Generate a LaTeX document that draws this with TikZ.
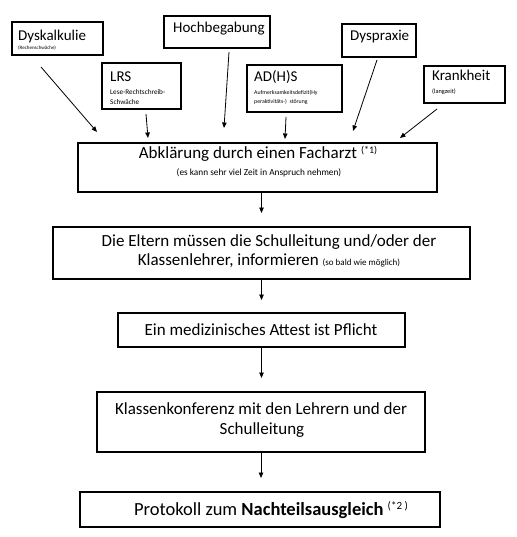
\documentclass[tikz,border=0pt]{standalone}
\usepackage{fontspec}
\setmainfont{Carlito}
\usetikzlibrary{arrows.meta,calc}
\newcommand{\myfs}[1]{\fontsize{#1}{#1}\selectfont}
\begin{document}
\begin{tikzpicture}[x=1pt,y=-1pt,
  box/.style={draw,line width=1.1pt,inner sep=0pt,outer sep=0pt,anchor=north west},
  lbl/.style={inner sep=0pt,anchor=base west},
  clbl/.style={inner sep=0pt,anchor=base},
  arr/.style={line width=0.8pt,-{Triangle[length=5.5pt,width=4.5pt]}}]
\useasboundingbox (0,0) rectangle (516,537);
\fill[white] (0,0) rectangle (516,537);

% top boxes
\node[box,minimum width=91pt,minimum height=33pt] (dys) at (12,22) {};
\node[box,minimum width=79pt,minimum height=46pt] (lrs) at (102,63) {};
\node[box,minimum width=106pt,minimum height=32pt] (hoch) at (164,16) {};
\node[box,minimum width=95pt,minimum height=47pt] (adhs) at (247,65) {};
\node[box,minimum width=74pt,minimum height=33pt] (dysp) at (342,24) {};
\node[box,minimum width=81pt,minimum height=37pt] (krank) at (424,66) {};

\node[lbl] (tdys) at (18,41) {\myfs{15}Dyskalkulie};
\node[lbl] (tdys2) at (18,50) {\myfs{5}(Rechenschwäche)};
\node[lbl] (tlrs) at (110,82) {\myfs{15}LRS};
\node[lbl] (tlrs2) at (110,95) {\myfs{7.2}Lese-Rechtschreib-};
\node[lbl] (tlrs3) at (110,105) {\myfs{7.2}Schwäche};
\node[lbl] (thoch) at (173,33) {\myfs{15}Hochbegabung};
\node[lbl] (tadhs) at (254,82) {\myfs{15}AD(H)S};
\node[lbl] (tadhs2) at (254,95) {\myfs{5.8}Aufmerksamkeitsdefizit(Hy};
\node[lbl] (tadhs3) at (254,104) {\myfs{5.8}peraktivitäts-)\ \ störung};
\node[lbl] (tdysp) at (350,41) {\myfs{15}Dyspraxie};
\node[lbl] (tkrank) at (432,81) {\myfs{15}Krankheit};
\node[lbl] (tkrank2) at (432,94) {\myfs{6.3}(langzeit)};

% main boxes
\node[box,minimum width=359pt,minimum height=49pt] (abk) at (78,143) {};
\node[box,minimum width=417pt,minimum height=52pt] (elt) at (53,227) {};
\node[box,minimum width=287pt,minimum height=34pt] (att) at (118,313) {};
\node[box,minimum width=328pt,minimum height=60pt] (kla) at (97,392) {};
\node[box,minimum width=360pt,minimum height=35pt] (pro) at (80,492) {};

\node[clbl] (tabk) at (258,159) {\myfs{17}Abklärung durch einen Facharzt \raisebox{5pt}{\myfs{10}(*1)}};
\node[clbl] (tabk2) at (259,176) {\myfs{9.3}(es kann sehr viel Zeit in Anspruch nehmen)};
\node[clbl] (telt) at (269,246) {\myfs{17}Die Eltern müssen die Schulleitung und/oder der};
\node[clbl] (telt2) at (269,265) {\myfs{17}Klassenlehrer, informieren {\myfs{9}(so bald wie möglich)}};
\node[clbl] (tatt) at (261,335) {\myfs{17}Ein medizinisches Attest ist Pflicht};
\node[clbl] (tkla) at (261,414) {\myfs{17}Klassenkonferenz mit den Lehrern und der};
\node[clbl] (tkla2) at (262,434) {\myfs{17}Schulleitung};
\node[clbl] (tpro) at (271,515) {\myfs{18.5}Protokoll zum \textbf{Nachteilsausgleich} \raisebox{5.5pt}{\myfs{11}(*2 )}};

% top arrows (free tips)
\coordinate (e1) at (97,132);
\coordinate (e2) at (148,138);
\coordinate (e3) at (224,128);
\coordinate (e4) at (285,139);
\coordinate (e5) at (353,131);
\coordinate (e6) at (400,138);
\draw[arr] ($(dys.south west)+(29,12)$) -- (e1);
\draw[arr] ($(lrs.south)+(4.5,5)$) -- (e2);
\draw[arr] ($(hoch.south)+(12,4)$) -- (e3);
\draw[arr] ($(adhs.south)+(-8.5,5)$) -- (e4);
\draw[arr] ($(dysp.south)+(-2,3)$) -- (e5);
\draw[arr] ($(krank.south)+(-27.5,6)$) -- (e6);

% flow arrows
\draw[arr] (abk.south -| elt.north) -- ([yshift=14pt]elt.north);
\draw[arr] (elt.south) -- ([yshift=13pt]att.north);
\draw[arr] (att.south) -- ([yshift=14pt]kla.north -| att.south);
\draw[arr] (kla.south) -- ([yshift=14pt]pro.north -| kla.south);
\end{tikzpicture}
\end{document}
